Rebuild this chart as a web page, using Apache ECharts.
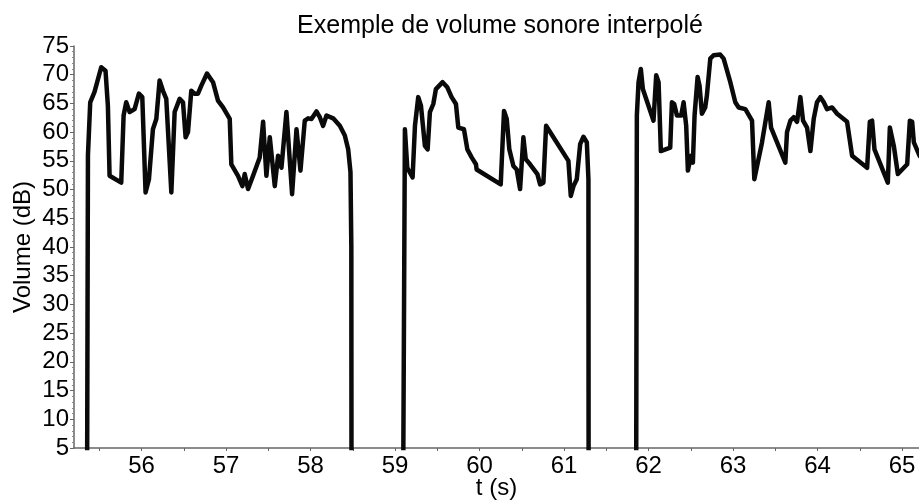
<!DOCTYPE html>
<html>
<head>
<meta charset="utf-8">
<script src="https://cdn.jsdelivr.net/npm/echarts@6/dist/echarts.min.js"></script>
<style>
  html, body { margin: 0; padding: 0; background: #fff; }
  #chart { width: 919px; height: 501px; }
</style>
</head>
<body>
<div id="chart"></div>
<script>
// tick labels
const xTicks = [56, 57, 58, 59, 60, 61, 62, 63, 64, 65];
const xMinorTicks = [55.5, 56.5, 57.5, 58.5, 59.5, 60.5, 61.5, 62.5, 63.5, 64.5];

// segment 1 (t in s, volume in dB)
const seg1T = [55.355, 55.365, 55.392, 55.443, 55.522, 55.573, 55.601, 55.621, 55.759, 55.787,
  55.818, 55.858, 55.917, 55.968, 56.008, 56.047, 56.087, 56.134, 56.174, 56.213,
  56.253, 56.292, 56.352, 56.391, 56.450, 56.490, 56.521, 56.549, 56.588, 56.628,
  56.667, 56.707, 56.774, 56.845, 56.904, 56.964, 57.043, 57.062, 57.141, 57.193,
  57.220, 57.260, 57.319, 57.398, 57.438, 57.477, 57.517, 57.576, 57.615, 57.655,
  57.714, 57.781, 57.833, 57.880, 57.931, 57.971, 58.010, 58.069, 58.109, 58.148,
  58.188, 58.267, 58.346, 58.405, 58.445, 58.472, 58.482, 58.484];
const seg1V = [0, 56, 65.2, 67.0, 71.3, 70.7, 64.6, 52.4, 51.2, 62.9,
  65.2, 63.5, 64.0, 66.7, 66.1, 49.5, 51.8, 60.5, 62.3, 69.0,
  67.2, 65.8, 49.5, 63.5, 65.8, 65.2, 59.1, 60.0, 67.2, 66.7,
  66.7, 68.1, 70.2, 68.7, 65.5, 64.3, 62.3, 54.4, 52.4, 50.6,
  52.7, 50.1, 52.4, 55.6, 61.8, 52.4, 59.1, 50.6, 55.9, 53.8,
  63.5, 49.2, 60.5, 53.3, 62.0, 62.4, 62.3, 63.6, 62.6, 61.1,
  62.9, 62.4, 61.1, 59.4, 57.0, 53.0, 40, 0];

// segment 2
const seg2T = [59.096, 59.116, 59.144, 59.207, 59.235, 59.274, 59.306, 59.353, 59.385, 59.412,
  59.452, 59.483, 59.562, 59.618, 59.669, 59.720, 59.748, 59.815, 59.855, 59.906,
  59.957, 59.965, 60.250, 60.289, 60.321, 60.352, 60.400, 60.439, 60.479, 60.518,
  60.546, 60.597, 60.684, 60.716, 60.755, 60.787, 61.051, 61.079, 61.111, 61.150,
  61.190, 61.229, 61.269, 61.288, 61.290];
const seg2V = [0, 60.5, 53.8, 52.1, 61.1, 66.1, 64.6, 57.6, 57.0, 63.5,
  64.9, 67.5, 68.7, 67.8, 66.1, 64.9, 60.8, 60.5, 57.0, 55.6,
  54.4, 53.5, 50.9, 63.7, 62.3, 57.0, 54.1, 53.5, 50.1, 59.1,
  55.3, 54.4, 52.7, 50.9, 51.2, 61.1, 55.0, 48.9, 50.6, 51.8,
  57.9, 59.2, 58.2, 51.8, 0];

// segment 3
const seg3T = [61.853, 61.861, 61.881, 61.908, 61.932, 62.058, 62.090, 62.118, 62.145, 62.256,
  62.276, 62.303, 62.335, 62.386, 62.414, 62.445, 62.465, 62.501, 62.524, 62.544,
  62.580, 62.603, 62.631, 62.670, 62.690, 62.730, 62.769, 62.848, 62.888, 62.967,
  63.026, 63.066, 63.145, 63.224, 63.251, 63.342, 63.421, 63.449, 63.618, 63.638,
  63.678, 63.717, 63.757, 63.796, 63.828, 63.875, 63.915, 63.954, 63.993, 64.033,
  64.073, 64.112, 64.171, 64.231, 64.349, 64.408, 64.586, 64.618, 64.645, 64.673,
  64.831, 64.855, 64.902, 64.950, 65.060, 65.092, 65.119, 65.139, 65.206, 65.260];
const seg3V = [0, 62.9, 68.7, 71.0, 67.5, 62.0, 69.9, 68.7, 56.7, 57.3,
  65.2, 64.9, 62.9, 62.9, 65.2, 61.1, 53.3, 55.9, 54.7, 62.9,
  69.6, 68.1, 63.2, 64.3, 66.4, 72.8, 73.4, 73.5, 72.8, 68.7,
  65.2, 64.3, 64.0, 62.0, 51.8, 58.2, 65.2, 60.8, 54.7, 60.0,
  62.0, 62.6, 61.8, 66.1, 62.0, 60.8, 56.7, 62.3, 65.2, 66.1,
  65.2, 64.0, 64.3, 63.2, 61.8, 55.9, 53.8, 61.8, 62.0, 57.0,
  51.2, 60.8, 57.6, 52.7, 54.4, 62.0, 61.8, 58.2, 55.9, 55.0];

function pairs(ts, vs) {
  return ts.map((t, i) => [t, vs[i]]);
}
const lineData = pairs(seg1T, seg1V)
  .concat([[58.8, null]], pairs(seg2T, seg2V))
  .concat([[61.6, null]], pairs(seg3T, seg3V));

const labelFont = { fontFamily: 'Liberation Sans', fontSize: 24, color: '#000' };

const option = {
  animation: false,
  backgroundColor: '#fff',
  title: {
    text: 'Exemple de volume sonore interpolé',
    left: 500,
    top: 14,
    padding: 0,
    textAlign: 'center',
    textStyle: { fontFamily: 'Liberation Sans', fontSize: 25, fontWeight: 'normal', color: '#000' }
  },
  grid: { left: 74, right: 0, top: 46, bottom: 53, containLabel: false, outerBoundsMode: 'none' },
  xAxis: {
    type: 'value',
    min: 55.2,
    max: 65.2,
    name: 't (s)',
    nameLocation: 'middle',
    nameGap: 28,
    nameMoveOverlap: false,
    nameTextStyle: labelFont,
    axisLine: { show: true, lineStyle: { color: '#666', width: 1.5 } },
    axisTick: { show: true, customValues: xMinorTicks.concat(xTicks), length: 3, lineStyle: { color: '#666' } },
    axisLabel: Object.assign({ customValues: xTicks, margin: 6 }, labelFont),
    splitLine: { show: false }
  },
  yAxis: {
    type: 'value',
    min: 5,
    max: 75,
    interval: 5,
    name: 'Volume (dB)',
    nameLocation: 'middle',
    nameGap: 39,
    nameMoveOverlap: false,
    nameTextStyle: labelFont,
    axisLine: { show: true, lineStyle: { color: '#666', width: 1.5 } },
    axisTick: { show: true, length: 4, lineStyle: { color: '#666' } },
    minorTick: { show: true, splitNumber: 5, length: 2, lineStyle: { color: '#888' } },
    axisLabel: Object.assign({ margin: 5 }, labelFont),
    splitLine: { show: false }
  },
  series: [{
    type: 'line',
    data: lineData,
    showSymbol: false,
    connectNulls: false,
    clip: true,
    lineStyle: { color: '#0a0a0a', width: 4.5, join: 'round' }
  }]
};

const chart = echarts.init(document.getElementById('chart'));
chart.setOption(option);
</script>
</body>
</html>
